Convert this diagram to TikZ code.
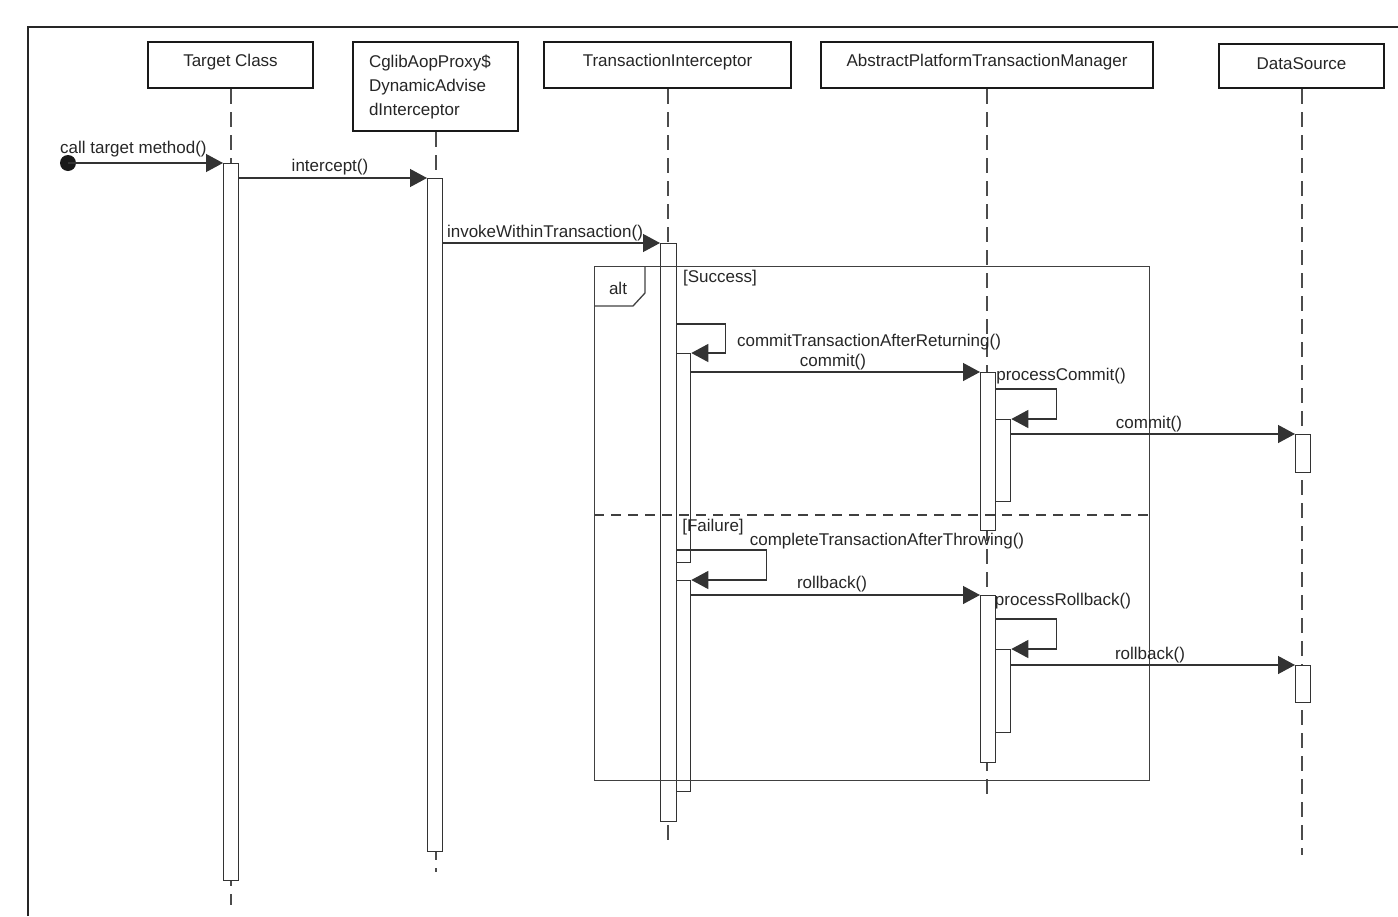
\documentclass[tikz,border=0pt]{standalone}
\usepackage{fontspec}
\setmainfont{Liberation Sans}
\usetikzlibrary{arrows.meta}
\begin{document}
\begin{tikzpicture}[x=1pt,y=-1pt,
 font=\fontsize{17}{24}\selectfont,
 hdr/.style={draw=black!90,line width=2.9pt,fill=white,inner sep=0pt,text=black!85},
 life/.style={draw=black!70,line width=2pt,dash pattern=on 15pt off 8pt},
 bar/.style={draw=black!80,line width=1.3pt,fill=white,inner sep=0pt,anchor=north west},
 msg/.style={draw=black!80,line width=1.3pt,-{Triangle[length=17pt,width=18pt]}},
 lbl/.style={inner sep=0pt,text=black!85,yshift=-1.5pt},
 frame/.style={draw=black!75,line width=1.3pt},
]
\useasboundingbox (0,0) rectangle (1398,916);
% outer frame
\coordinate (fBL) at (28,916);
\coordinate (fTL) at (28,27);
\coordinate (fTR) at (1398,27);
\draw[black!85,line width=2pt] (fBL) -- (fTL) -- (fTR);

% headers
\node[hdr,minimum width=165,minimum height=46,text height=12pt,text depth=9.6pt] (tc) at (230.5,65) {Target Class};
\node[hdr,minimum width=165,minimum height=89,text width=133pt,inner xsep=16pt,align=left] (cg) at (435.5,86.5) {CglibAopProxy\$\\DynamicAdvise\\dInterceptor};
\node[hdr,minimum width=247,minimum height=46,text height=12pt,text depth=9.6pt] (ti) at (667.5,65) {TransactionInterceptor};
\node[hdr,minimum width=332,minimum height=46,text height=12pt,text depth=9.6pt] (ap) at (987,65) {AbstractPlatformTransactionManager};
\node[hdr,minimum width=165,minimum height=44,text height=12pt,text depth=5.6pt] (ds) at (1301.5,66) {DataSource};

% lifeline ends
\coordinate (tcE) at (230.5,905);
\coordinate (cgE) at (435.5,872);
\coordinate (tiE) at (667.5,843);
\coordinate (apE) at (987,800);
\coordinate (dsE) at (1301.5,855);
\draw[life] (tc.south) -- (tcE);
\draw[life] (cg.south) -- (cgE);
\draw[life] (ti.south) -- (tiE);
\draw[life] (ap.south) -- (apE);
\draw[life] (ds.south) -- (dsE);

% activation bars
\node[bar,minimum width=15,minimum height=717] (tA) at (223,163) {};
\node[bar,minimum width=15,minimum height=673] (cA) at (427,178) {};
\node[bar,minimum width=16,minimum height=578] (iA) at (660,243) {};
\node[bar,minimum width=14,minimum height=209] (iB) at (676,353) {};
\node[bar,minimum width=14,minimum height=211] (iC) at (676,580) {};
\node[bar,minimum width=15,minimum height=158] (pA) at (980,372) {};
\node[bar,minimum width=15,minimum height=82] (pB) at (995,419) {};
\node[bar,minimum width=15,minimum height=38] (dA) at (1295,434) {};
\node[bar,minimum width=15,minimum height=167] (pC) at (980,595) {};
\node[bar,minimum width=15,minimum height=83] (pD) at (995,649) {};
\node[bar,minimum width=15,minimum height=37] (dB) at (1295,665) {};

% alt frame
\node[frame,minimum width=555,minimum height=514,anchor=north west,inner sep=0pt] (alt) at (594,266) {};
\coordinate (pt1) at (645,266);
\coordinate (pt2) at (645,293);
\coordinate (pt3) at (633,306);
\coordinate (pt4) at (594,306);
\draw[frame] (pt1) -- (pt2) -- (pt3) -- (pt4);
\node[lbl] (altT) at (618,287) {alt};
\coordinate (sepL) at (594,515);
\coordinate (sepR) at (1149,515);
\draw[frame,dash pattern=on 10pt off 7pt] (sepL) -- (sepR);
\node[lbl] (succ) at (720,277) {[Success]};
\node[lbl] (fail) at (713,526) {[Failure]};

% messages
\node[circle,fill=black!90,minimum size=16pt,inner sep=0pt] (st) at (68,163) {};
\draw[msg] (st.center) -- (tA.north west);
\node[lbl,anchor=west] (m1) at (60,148) {call target method()};

\draw[msg] (tA.east |- cA.north) -- (cA.north west);
\node[lbl] (m2) at (330,166) {intercept()};

\draw[msg] (cA.east |- iA.north) -- (iA.north west);
\node[lbl] (m3) at (545,232) {invokeWithinTransaction()};

\coordinate (s1) at (676,324);
\draw[msg] (s1) -| ([xshift=34pt]iB.north east) -- (iB.north east);
\node[lbl] (m4) at (869,341) {commitTransactionAfterReturning()};

\draw[msg] (iB.east |- pA.north) -- (pA.north west);
\node[lbl] (m5) at (833,361) {commit()};

\coordinate (s2) at (995,389);
\draw[msg] (s2) -| ([xshift=45pt]pB.north east) -- (pB.north east);
\node[lbl] (m6) at (1061,375) {processCommit()};

\draw[msg] (pB.east |- dA.north) -- (dA.north west);
\node[lbl] (m7) at (1149,423) {commit()};

\coordinate (s3) at (676,550);
\draw[msg] (s3) -| ([xshift=75pt]iC.north east) -- (iC.north east);
\node[lbl] (m8) at (887,540) {completeTransactionAfterThrowing()};

\draw[msg] (iC.east |- pC.north) -- (pC.north west);
\node[lbl] (m9) at (832,583) {rollback()};

\coordinate (s4) at (995,619);
\draw[msg] (s4) -| ([xshift=45pt]pD.north east) -- (pD.north east);
\node[lbl] (m10) at (1063,600) {processRollback()};

\draw[msg] (pD.east |- dB.north) -- (dB.north west);
\node[lbl] (m11) at (1150,654) {rollback()};
\end{tikzpicture}
\end{document}
